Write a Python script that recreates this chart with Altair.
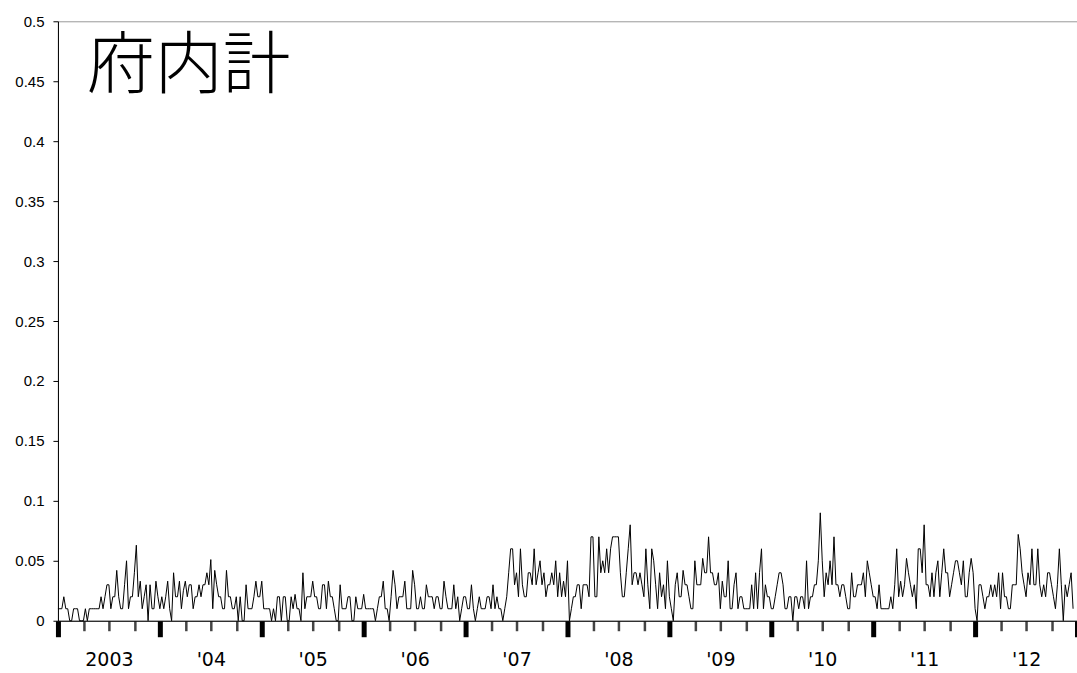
import json

import altair as alt
import pandas as pd

# Weekly values, 2003 through 2012, in the order they occur.
part_a = [0.01, 0.01, 0.01, 0.02, 0.01, 0.01, 0, 0, 0.01, 0.01, 0.01, 0, 0, 0, 0.01, 0, 0.01, 0.01, 0.01, 0.01,
          0.01, 0.01, 0.02, 0.01, 0.02, 0.03, 0.03, 0.01, 0.02, 0.02, 0.042, 0.02, 0.01, 0.01, 0.03, 0.05, 0.01,
          0.02, 0.02, 0.04, 0.063, 0.02, 0.033, 0.01, 0.02, 0.03, 0, 0.03, 0.01, 0.01, 0.033, 0.02, 0.01, 0.02,
          0.01, 0.02, 0.033, 0.01, 0]
part_b = [0.04, 0.02, 0.02, 0.033, 0.01, 0.025, 0.033, 0.02, 0.03, 0.03, 0.01, 0.02, 0.02, 0.03, 0.02, 0.03,
          0.03, 0.04, 0.03, 0.051, 0.01, 0.042, 0.03, 0.02, 0.02, 0.01, 0.01, 0.042, 0.02, 0.02, 0.01, 0.01, 0.02,
          0, 0.02, 0, 0, 0.03, 0.01, 0.01, 0.01, 0.02, 0.033, 0.02, 0.02, 0.033, 0.01, 0.01, 0.01, 0.01, 0, 0.01,
          0, 0.02, 0.02, 0, 0.02, 0.02, 0, 0, 0.02, 0.01, 0.022, 0.01, 0.01, 0, 0.04]
part_c = [0.01, 0.02, 0.02, 0.02, 0.033, 0.02, 0.02, 0.01, 0.01, 0.03, 0.03, 0.01, 0.033, 0.02, 0.02, 0.01, 0,
          0, 0.03, 0.01, 0.01, 0.01, 0.02, 0.02, 0, 0, 0.02, 0.01, 0.01, 0.01, 0.022, 0.01, 0.01, 0.01, 0.01,
          0.01, 0, 0.01, 0.02, 0.02, 0.033, 0.01, 0.01, 0, 0.02, 0.042, 0.03, 0.01, 0.02, 0.02, 0.02, 0.033,
          0.01, 0.01, 0.01, 0.042, 0.03, 0.01, 0.01, 0.02, 0.01, 0.01, 0.03]
part_d = [0.02, 0.02, 0.02, 0.01, 0.02, 0.02, 0.01, 0.01, 0.033, 0.02, 0.01, 0.01, 0.01, 0.03, 0.01, 0.02, 0,
          0.01, 0.02, 0.02, 0.01, 0.01, 0.03, 0.01, 0, 0.01, 0.02, 0.01, 0.01, 0.01, 0.02, 0.02, 0.01, 0.03,
          0.01, 0.02, 0.01, 0.01, 0, 0.01, 0.02, 0.04, 0.06, 0.06, 0.03, 0.04, 0.02, 0.06, 0.03, 0.02, 0.02,
          0.04, 0.04, 0.03, 0.06, 0.03, 0.04, 0.05, 0.03, 0.04, 0.02, 0.03, 0.03, 0.04]
part_e = [0.03, 0.05, 0.02, 0.04, 0.02, 0.033, 0.02, 0.05, 0, 0.01, 0.02, 0.02, 0.03, 0.03, 0.01, 0.03, 0.03,
          0.03, 0.02, 0.07, 0.07, 0.02, 0.02, 0.07, 0.04, 0.05, 0.04, 0.06, 0.04, 0.06, 0.07, 0.07, 0.07, 0.07,
          0.04, 0.02, 0.02, 0.04, 0.06, 0.08, 0.03, 0.04, 0.04, 0.03, 0.04, 0.03, 0.02, 0.06, 0.03, 0.01, 0.06,
          0.05, 0.03, 0.01, 0.04, 0.02, 0.03, 0.01, 0.05, 0.02, 0.01, 0, 0.03]
part_f = [0.04, 0.02, 0.02, 0.042, 0.03, 0.03, 0.02, 0.01, 0.01, 0.05, 0.03, 0.03, 0.03, 0.052, 0.04, 0.04,
          0.07, 0.04, 0.04, 0.03, 0.03, 0.04, 0.01, 0.033, 0.02, 0.02, 0.05, 0.01, 0.01, 0.03, 0.04, 0.01, 0.02,
          0.02, 0.01, 0.01, 0.01, 0.01, 0.03, 0.01, 0.04, 0.01, 0.04, 0.06, 0.01, 0.03, 0.02, 0.02, 0.01, 0.01,
          0.02, 0.03, 0.04, 0.04, 0.03, 0.01, 0.01, 0.02, 0.02, 0, 0.02, 0.02, 0.01, 0.02, 0.02, 0.01]
part_g = [0.05, 0.01, 0.02, 0.02, 0.03, 0.03, 0.05, 0.09, 0.05, 0.02, 0.04, 0.03, 0.05, 0.03, 0.07, 0.03, 0.03,
          0.02, 0.03, 0.03, 0.02, 0.01, 0.01, 0.04, 0.02, 0.02, 0.03, 0.03, 0.03, 0.04, 0.02, 0.05, 0.04, 0.03,
          0.02, 0.02, 0.01, 0.03, 0.01, 0.01, 0.01, 0.01, 0.01, 0.02, 0.01, 0.03, 0.06, 0.02, 0.033, 0.02, 0.03,
          0.052, 0.04, 0.03, 0.02, 0.03, 0.01, 0.06, 0.06, 0.04, 0.08, 0.03]
part_h = [0.03, 0.02, 0.04, 0.02, 0.04, 0.05, 0.02, 0.04, 0.06, 0.04, 0.04, 0.02, 0.03, 0.04, 0.05, 0.05, 0.04,
          0.03, 0.05, 0.02, 0.02, 0.04, 0.052, 0.04, 0.01, 0, 0.03, 0.03, 0.02, 0.01, 0.02, 0.02, 0.03, 0.02,
          0.03, 0.02, 0.04, 0.01, 0.04, 0.02, 0.02, 0.01, 0.01, 0.03, 0.03, 0.03, 0.072, 0.06, 0.04, 0.03, 0.02,
          0.04, 0.03, 0.06, 0.03, 0.03, 0.06, 0.03, 0.02, 0.03, 0.02, 0.04, 0.04, 0.03, 0.02, 0.01, 0.03, 0.06,
          0.03, 0, 0.03, 0.02, 0.03, 0.04, 0.01]

year_labels = ["2003", "'04", "'05", "'06", "'07", "'08", "'09", "'10", "'11", "'12"]
y_ticks = [0, 0.05, 0.1, 0.15, 0.2, 0.25, 0.3, 0.35, 0.4, 0.45, 0.5]
title_text = "府内計"

WEEKS = 52
QUARTER = 13

values = part_a + part_b + part_c + part_d + part_e + part_f + part_g + part_h
df = pd.DataFrame({"week": list(range(len(values))), "rate": values})

span = WEEKS * len(year_labels)
x_ticks = list(range(0, span + 1, QUARTER))
year_start = f"datum.value % {WEEKS} == 0"

x_axis = alt.Axis(
    values=x_ticks,
    title=None,
    grid=False,
    domainColor="black",
    domainWidth=1,
    tickColor={"condition": {"test": year_start, "value": "black"}, "value": "#444444"},
    tickWidth={"condition": {"test": year_start, "value": 5}, "value": 2.5},
    tickSize={"condition": {"test": year_start, "value": 16}, "value": 10},
    labelExpr=(f"datum.value % {WEEKS} == {WEEKS // 2} ? "
               f"{json.dumps(year_labels)}[floor(datum.value / {WEEKS})] : ''"),
    labelFont="DejaVu Sans",
    labelFontSize=19,
    labelColor="black",
    labelPadding=20,
    labelOverlap=False,
    labelFlush=False,
)

y_axis = alt.Axis(
    values=y_ticks,
    format=".2~f",
    title=None,
    grid=False,
    domainColor="black",
    tickColor="black",
    tickSize=5,
    labelFont="Liberation Sans",
    labelFontSize=15,
    labelColor="black",
    labelPadding=9,
)

line = (
    alt.Chart(df)
    .mark_line(color="black", strokeWidth=1)
    .encode(
        x=alt.X("week:Q", scale=alt.Scale(domain=[0, span], nice=False, zero=False), axis=x_axis),
        y=alt.Y("rate:Q", scale=alt.Scale(domain=[0, 0.5], nice=False), axis=y_axis),
    )
)

# Large heading in the upper-left corner of the plot
heading = (
    alt.Chart(pd.DataFrame({"label": [title_text]}))
    .mark_text(
        font="Noto Sans CJK JP",
        fontSize=68,
        fontWeight=300,
        color="black",
        align="left",
        baseline="alphabetic",
    )
    .encode(text="label:N", x=alt.value(29), y=alt.value(67))
)

chart = (
    alt.layer(line, heading)
    .properties(
        width=1020,
        height=600,
        autosize=alt.AutoSizeParams(type="none"),
        padding={"left": 58, "top": 21, "right": 0, "bottom": 52},
        background="white",
    )
    .configure_view(stroke="#999999", strokeWidth=1)
)

chart.save("out.html", embed_options={"renderer": "svg", "actions": False})
